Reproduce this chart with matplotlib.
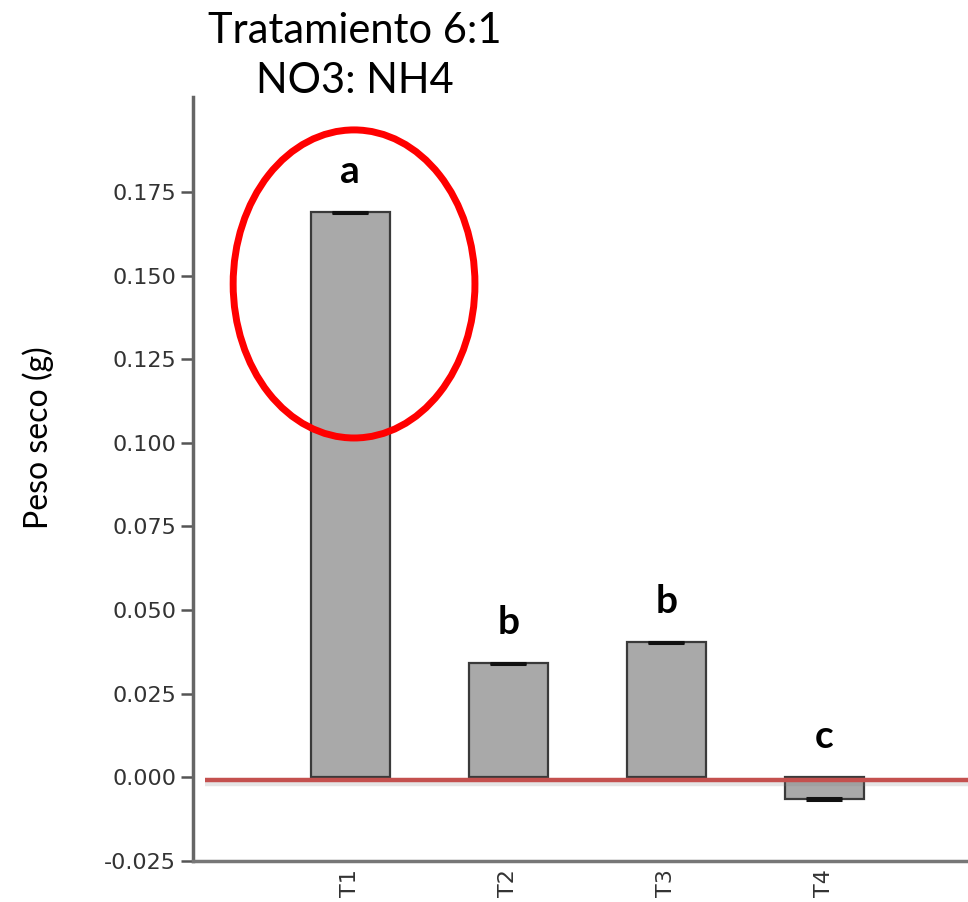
import numpy as np
import matplotlib
matplotlib.use("Agg")
import matplotlib.pyplot as plt
from matplotlib.patches import Ellipse
import matplotlib.patheffects as pe

# Dry weight per treatment
treatments = ["T1", "T2", "T3", "T4"]
peso_seco = [0.1689, 0.0341, 0.0404, -0.0065]
sem = [0.0002, 0.0002, 0.0002, 0.0002]
letters = ["a", "b", "b", "c"]
y_ticks = [-0.025, 0.000, 0.025, 0.050, 0.075, 0.100, 0.125, 0.150, 0.175]

text_font = ["Lato", "DejaVu Sans"]

fig = plt.figure(figsize=(9.68, 9.02), dpi=100)
ax = fig.add_axes([0.1994, 0.0455, 0.8006, 0.847])

x = np.arange(len(treatments))
ax.bar(x, peso_seco, width=0.5, color="#a9a9a9", edgecolor="#3a3a3a", linewidth=1.6, zorder=2)
ax.errorbar(x, peso_seco, yerr=sem, fmt="none", ecolor="#111111",
            elinewidth=2, capsize=13, capthick=2.2, zorder=3)

# significance letters above each bar
for xi, val, lab in zip(x, peso_seco, letters):
    ax.annotate(lab, (xi, max(val, 0)), xytext=(0, 21), textcoords="offset points",
                ha="center", va="baseline", fontsize=28, fontweight="bold",
                family=text_font, color="black")

# zero reference line
ax.plot([-0.92, 3.91], [-0.0009, -0.0009], color="#c4504e", linewidth=3.2, zorder=4,
        solid_capstyle="butt",
        path_effects=[pe.SimpleLineShadow(offset=(0, -2.5), shadow_color="gray", alpha=0.2),
                      pe.Normal()])

# highlight around the top treatment
ax.add_patch(Ellipse((0.025, 0.1475), width=1.53, height=0.0921, fill=False,
                     edgecolor="#ff0000", linewidth=5, zorder=5, clip_on=False))

ax.set_xlim(-0.994, 3.91)
ax.set_ylim(-0.025, 0.2034)
ax.set_yticks(y_ticks)
ax.set_yticklabels([f"{v:.3f}" for v in y_ticks])
ax.set_xticks(x)
ax.set_xticklabels(treatments, rotation=90, fontsize=16, color="#333333")
ax.tick_params(axis="x", length=0, pad=6)
ax.tick_params(axis="y", length=9, width=1.8, color="#555555", labelsize=16,
               labelcolor="#333333", pad=3)

for side in ["top", "right"]:
    ax.spines[side].set_visible(False)
ax.spines["left"].set_color("#666666")
ax.spines["left"].set_linewidth(2.5)
ax.spines["bottom"].set_color("#777777")
ax.spines["bottom"].set_linewidth(2.5)

fig.text(38 / 968, 1 - 438 / 902, "Peso seco (g)", rotation=90, ha="center", va="center",
         fontsize=23, family=text_font)

fig.text(355 / 968, 1 - 43 / 902, "Tratamiento 6:1", ha="center", va="baseline",
         fontsize=30, family=text_font)
fig.text(355 / 968, 1 - 93 / 902, "NO3: NH4", ha="center", va="baseline",
         fontsize=30, family=text_font)

fig.savefig("out.png", dpi=100)
